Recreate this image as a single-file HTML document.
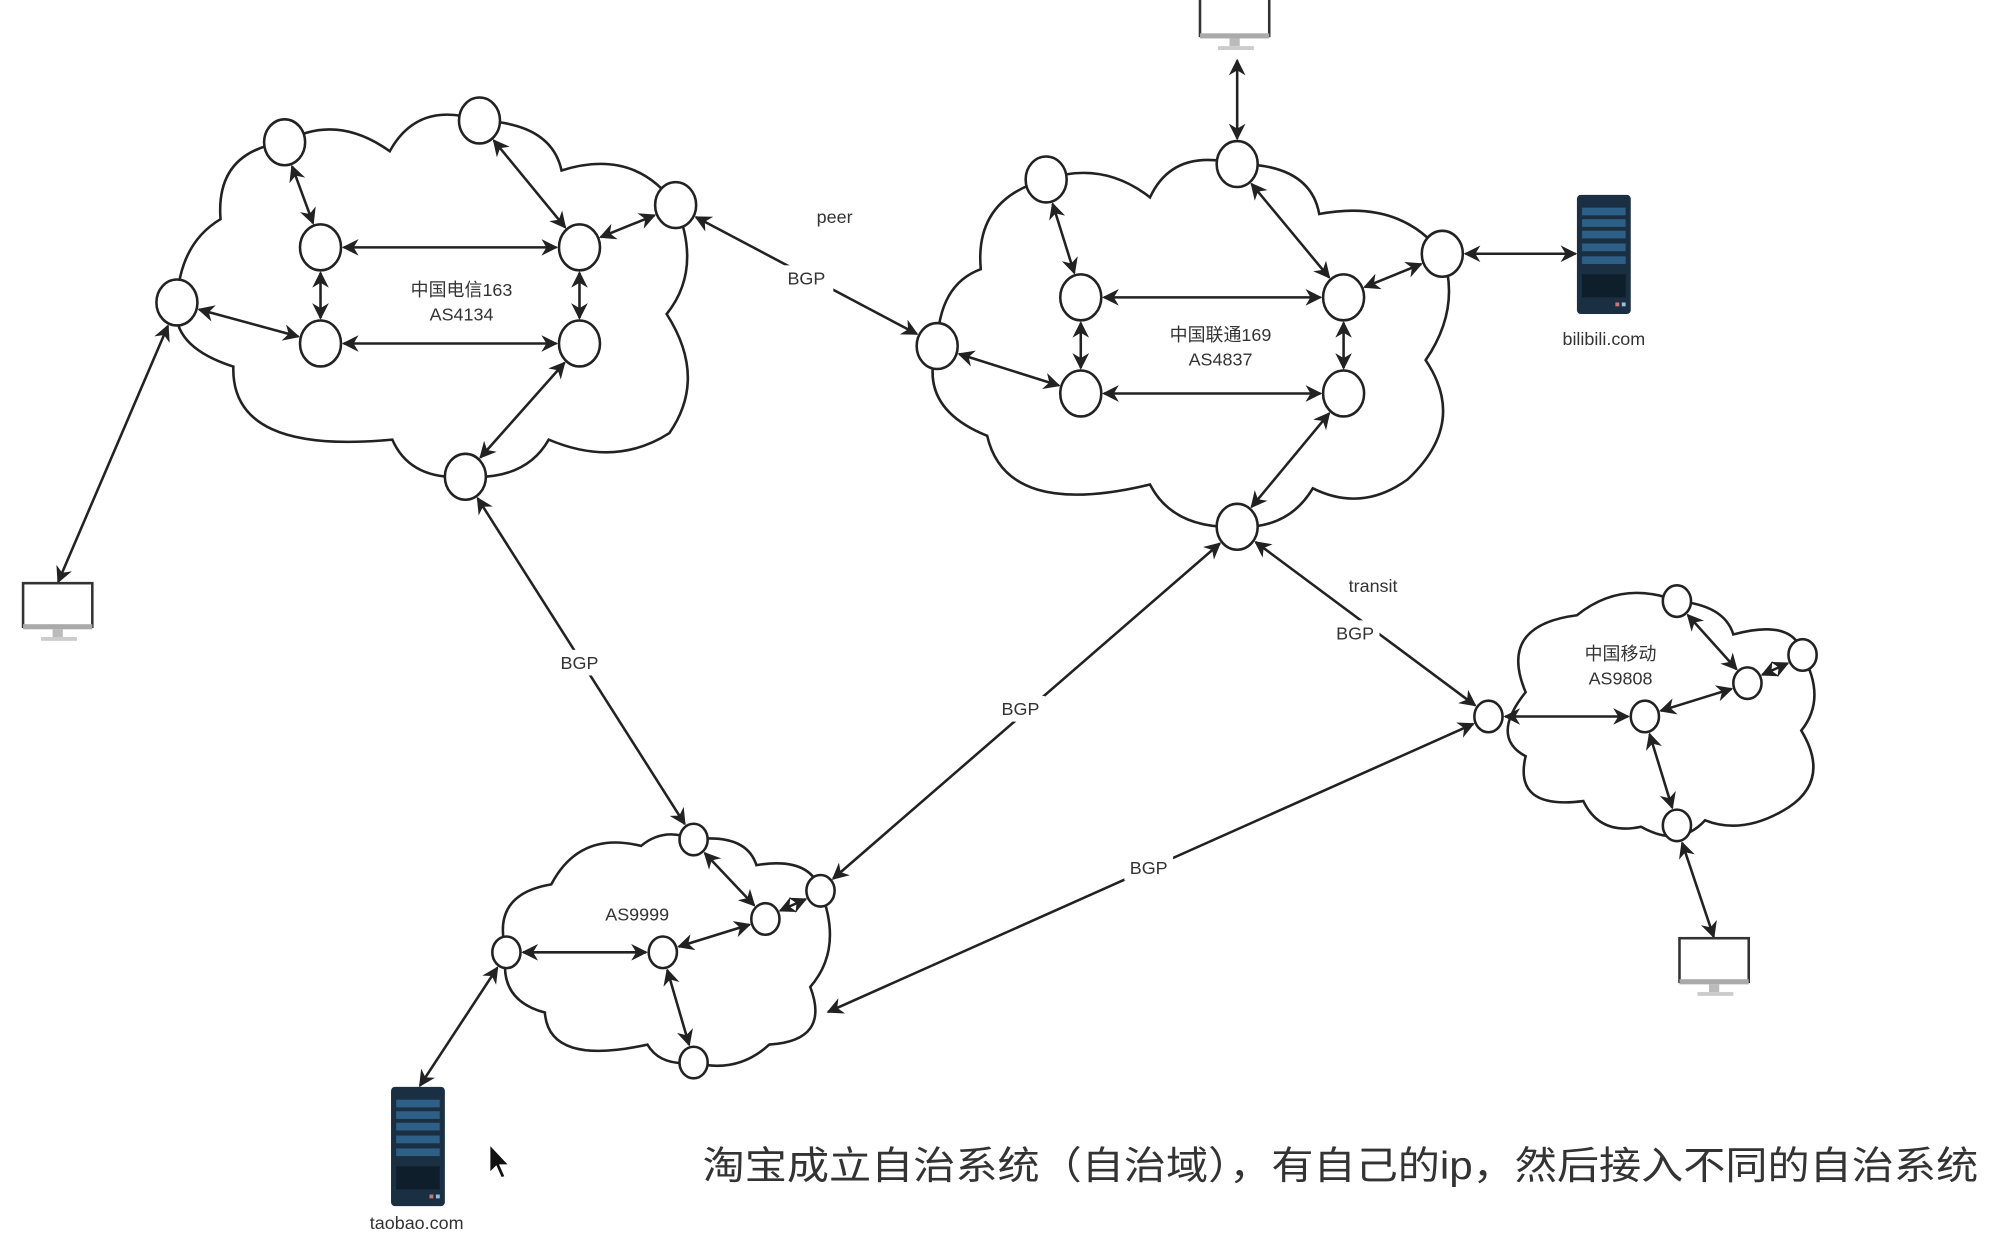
<!DOCTYPE html>
<html><head><meta charset="utf-8">
<style>
html,body{margin:0;padding:0;background:#fff;}
svg{display:block;}
text{font-family:"Liberation Sans","Noto Sans CJK SC",sans-serif;fill:#333;}
</style></head>
<body>
<svg id="s" width="2000" height="1233" viewBox="0 0 1560 962" preserveAspectRatio="none" xmlns="http://www.w3.org/2000/svg">
<defs>
<marker id="ah" viewBox="0 0 10 10" refX="9" refY="5" markerWidth="6.5" markerHeight="6.5" orient="auto-start-reverse" markerUnits="strokeWidth">
<path d="M0,0 L10,5 L0,10 L3,5 Z" fill="#222"/>
</marker>
</defs>
<rect width="1560" height="962" fill="#fff"/>
<g id="clouds" fill="none" stroke="#222" stroke-width="2">
<path d="M222,111 Q262,88 304,118 Q326,78 374,94 Q430,96 438,133 Q495,115 527,160 Q548,210 520,245 Q552,295 522,338 Q480,365 428,343 Q410,375 363,372 Q320,375 306,343 Q180,355 182,286 Q132,270 138,236 Q140,190 172,171 Q168,118 222,111 Z"/>
<path d="M816,140 Q860,125 897,154 Q915,115 965,128 Q1022,128 1029,167 Q1092,155 1125,198 Q1140,240 1112,281 Q1145,330 1098,374 Q1062,400 1024,381 Q1005,413 965,411 Q915,413 897,378 Q785,405 770,340 Q715,318 731,270 Q732,222 765,210 Q760,155 816,140 Z"/>
<path d="M1190,540 Q1168,488 1230,480 Q1265,452 1308,469 Q1345,472 1352,495 Q1400,482 1406,511 Q1425,545 1405,570 Q1428,608 1395,630 Q1360,652 1330,640 Q1310,662 1280,645 Q1248,652 1235,625 Q1180,632 1190,590 Q1162,575 1190,540 Z"/>
<path d="M395,743 Q382,698 430,690 Q452,648 500,660 Q518,645 541,655 Q582,650 590,675 Q632,668 640,695 Q658,740 632,770 Q648,812 600,815 Q575,838 541,829 Q515,832 505,815 Q428,832 425,790 Q388,780 395,743 Z"/>
</g>
<g id="edges" stroke="#222" stroke-width="2" fill="none"></g>
<g id="nodes" fill="#fff" stroke="#222" stroke-width="2"></g>

<g transform="translate(18,455)">
<rect x="0" y="0" width="54" height="34" fill="#fff" stroke="#333" stroke-width="2"/>
<rect x="0" y="32" width="54" height="4" fill="#aaa"/>
<rect x="23" y="36" width="8" height="6" fill="#bbb"/>
<rect x="14" y="42" width="28" height="3" fill="#ccc"/>
</g>
<g transform="translate(936,-6)">
<rect x="0" y="0" width="54" height="34" fill="#fff" stroke="#333" stroke-width="2"/>
<rect x="0" y="32" width="54" height="4" fill="#aaa"/>
<rect x="23" y="36" width="8" height="6" fill="#bbb"/>
<rect x="14" y="42" width="28" height="3" fill="#ccc"/>
</g>
<g transform="translate(1310,732)">
<rect x="0" y="0" width="54" height="34" fill="#fff" stroke="#333" stroke-width="2"/>
<rect x="0" y="32" width="54" height="4" fill="#aaa"/>
<rect x="23" y="36" width="8" height="6" fill="#bbb"/>
<rect x="14" y="42" width="28" height="3" fill="#ccc"/>
</g>

<g transform="translate(1230,152)">
<rect width="42" height="93" rx="3" fill="#1b2f42"/>
<rect x="4" y="10" width="34" height="6" fill="#2e5f86"/><rect x="4" y="19" width="34" height="6" fill="#2e5f86"/>
<rect x="4" y="28" width="34" height="6" fill="#2e5f86"/><rect x="4" y="38" width="34" height="6" fill="#2e5f86"/>
<rect x="4" y="48" width="34" height="6" fill="#2e5f86"/>
<rect x="4" y="62" width="34" height="18" fill="#0f1e2b"/>
<rect x="30" y="84" width="3" height="3" fill="#c77"/><rect x="35" y="84" width="3" height="3" fill="#9bd"/>
</g>
<g transform="translate(305,848)">
<rect width="42" height="93" rx="3" fill="#1b2f42"/>
<rect x="4" y="10" width="34" height="6" fill="#2e5f86"/><rect x="4" y="19" width="34" height="6" fill="#2e5f86"/>
<rect x="4" y="28" width="34" height="6" fill="#2e5f86"/><rect x="4" y="38" width="34" height="6" fill="#2e5f86"/>
<rect x="4" y="48" width="34" height="6" fill="#2e5f86"/>
<rect x="4" y="62" width="34" height="18" fill="#0f1e2b"/>
<rect x="30" y="84" width="3" height="3" fill="#c77"/><rect x="35" y="84" width="3" height="3" fill="#9bd"/>
</g>

<g fill="#fff">
<rect x="610" y="207" width="40" height="20"/>
<rect x="434" y="507" width="38" height="20"/>
<rect x="777" y="543" width="38" height="20"/>
<rect x="1038" y="484" width="38" height="20"/>
<rect x="877" y="667" width="38" height="20"/>
</g>
<g font-size="14" text-anchor="middle">
<text x="651" y="174">peer</text>
<text x="629" y="222">BGP</text>
<text x="452" y="522">BGP</text>
<text x="796" y="558">BGP</text>
<text x="1071" y="462">transit</text>
<text x="1057" y="499">BGP</text>
<text x="896" y="682">BGP</text>
<text x="360" y="231">中国电信163</text>
<text x="360" y="250">AS4134</text>
<text x="952" y="266">中国联通169</text>
<text x="952" y="285">AS4837</text>
<text x="1264" y="515">中国移动</text>
<text x="1264" y="534">AS9808</text>
<text x="497" y="718">AS9999</text>
<text x="1251" y="269">bilibili.com</text>
<text x="325" y="959">taobao.com</text>
</g>
<text x="548" y="920" font-size="30" textLength="995" lengthAdjust="spacingAndGlyphs">淘宝成立自治系统（自治域），有自己的ip，然后接入不同的自治系统</text>
<path d="M382,893 L382,915 L387,910 L391,919 L394,918 L390,909 L397,909 Z" fill="#111" stroke="#fff" stroke-width="1"/>
</svg>
<script>
var NS="http://www.w3.org/2000/svg";
function el(t,a,p){var e=document.createElementNS(NS,t);for(var k in a)e.setAttribute(k,a[k]);document.getElementById(p).appendChild(e);return e;}
var N={
a1:[222,111,16],a2:[374,94,16],a3:[527,160,16],a4:[250,193,16],a5:[452,193,16],a6:[138,236,16],a7:[250,268,16],a8:[452,268,16],a9:[363,372,16],
b1:[816,140,16],b2:[965,128,16],b3:[1125,198,16],b4:[843,232,16],b5:[1048,232,16],b6:[731,270,16],b7:[843,307,16],b8:[1048,307,16],b9:[965,411,16],
c1:[1308,469,11],c2:[1406,511,11],c3:[1363,533,11],c4:[1283,559,11],c5:[1161,559,11],c6:[1308,644,11],
d1:[541,655,11],d2:[640,695,11],d3:[597,717,11],d4:[517,743,11],d5:[395,743,11],d6:[541,829,11],
m1:[45,455,0],m2:[965,46,0],m3:[1337,732,0],s1:[1230,198,0],s2:[327,848,0],e1:[645,790,0]
};
var E=[["a1","a4"],["a2","a5"],["a5","a3"],["a4","a5"],["a4","a7"],["a5","a8"],["a6","a7"],["a7","a8"],["a8","a9"],["a6","m1"],["a9","d1"],["a3","b6"],
["b1","b4"],["b2","b5"],["b5","b3"],["b4","b5"],["b4","b7"],["b5","b8"],["b6","b7"],["b7","b8"],["b8","b9"],["b2","m2"],["b3","s1"],["b9","d2"],["b9","c5"],["c5","e1"],
["c1","c3"],["c3","c2"],["c5","c4"],["c4","c3"],["c4","c6"],["c6","m3"],
["d1","d3"],["d3","d2"],["d5","d4"],["d4","d3"],["d4","d6"],["d5","s2"]];
E.forEach(function(e){var A=N[e[0]],B=N[e[1]];var dx=B[0]-A[0],dy=B[1]-A[1],L=Math.sqrt(dx*dx+dy*dy),ux=dx/L,uy=dy/L;
 var ra=A[2]?A[2]+2:1,rb=B[2]?B[2]+2:1;
 el("line",{x1:A[0]+ux*ra,y1:A[1]+uy*ra*1.1,x2:B[0]-ux*rb,y2:B[1]-uy*rb*1.1,"marker-start":"url(#ah)","marker-end":"url(#ah)"},"edges");});
for(var k in N){var n=N[k];if(n[2])el("ellipse",{cx:n[0],cy:n[1],rx:n[2],ry:n[2]*1.12},"nodes");}
</script>
</body></html>
